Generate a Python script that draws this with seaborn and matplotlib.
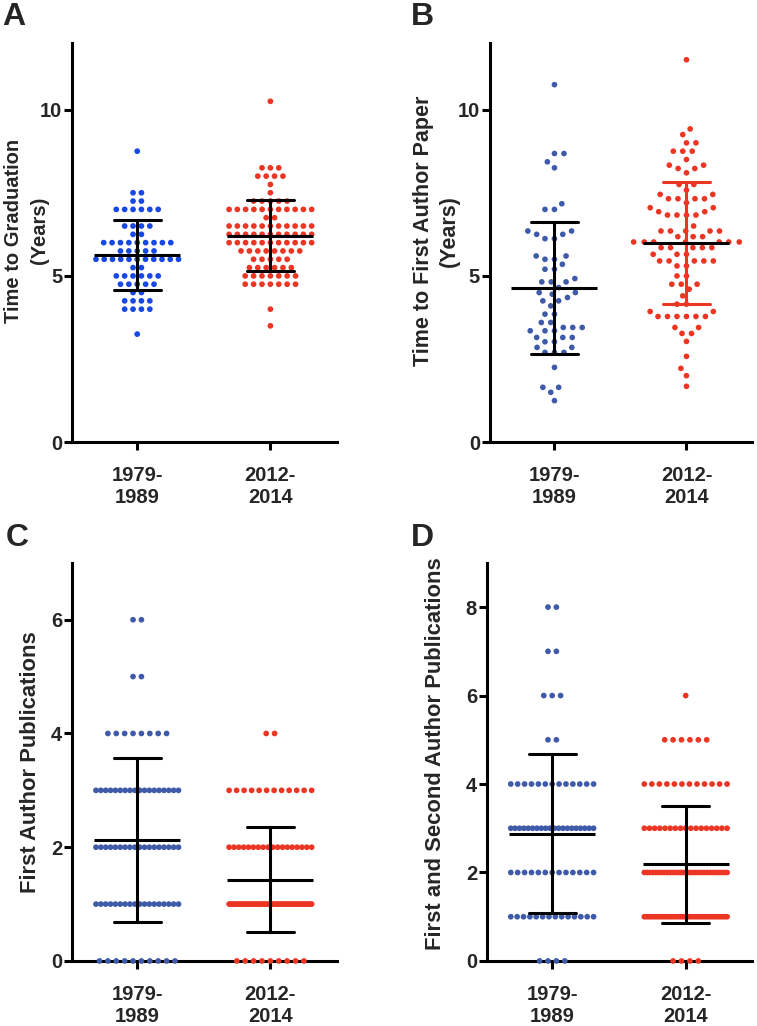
import numpy as np
import pandas as pd
import matplotlib
matplotlib.use("Agg")
import matplotlib.pyplot as plt
import seaborn as sns

groups = ["1979-\n1989", "2012-\n2014"]

# A - time to graduation (years), recorded on a quarter-year grid: level -> number of students
grad_old_levels = [8.75, 7.5, 7.25, 7.0, 6.5, 6.25, 6.0, 5.75, 5.5, 5.25, 5.0, 4.75, 4.5, 4.25, 4.0, 3.25]
grad_old_counts = [1, 2, 2, 6, 4, 2, 9, 5, 11, 2, 6, 5, 2, 4, 4, 1]
grad_new_levels = [10.25, 8.25, 8.0, 7.75, 7.5, 7.25, 7.0, 6.75, 6.5, 6.25, 6.0, 5.75, 5.5, 5.25, 5.0, 4.75, 4.0, 3.5]
grad_new_counts = [1, 3, 4, 1, 1, 5, 11, 2, 11, 11, 11, 8, 5, 6, 7, 7, 1, 1]

# B - time to first author paper (years)
paper_old = [10.75, 8.68, 8.68, 8.43, 8.25, 7.17, 7.0, 7.0, 6.35, 6.35, 6.25, 6.25, 6.12, 6.12,
             5.6, 5.6, 5.5, 5.5, 5.35, 5.2, 5.2, 4.92, 4.82, 4.82, 4.82, 4.65, 4.5, 4.5, 4.45,
             4.35, 4.25, 4.25, 4.1, 3.85, 3.85, 3.6, 3.6, 3.45, 3.45, 3.45, 3.35, 3.35, 3.35,
             3.15, 3.15, 3.15, 3.02, 3.02, 2.85, 2.85, 2.7, 2.7, 2.7, 2.25, 1.65, 1.65, 1.5, 1.25]
paper_new = [11.5, 9.42, 9.25, 9.0, 9.0, 8.75, 8.75, 8.75, 8.5, 8.33, 8.33, 8.23, 8.23, 8.1,
             7.75, 7.75, 7.58, 7.45, 7.45, 7.32, 7.32, 7.32, 7.32, 7.2, 7.05, 7.05, 6.93, 6.93,
             6.83, 6.83, 6.83, 6.83, 6.5, 6.35, 6.35, 6.35, 6.35, 6.35, 6.18, 6.18, 6.18,
             6.02, 6.02, 6.02, 6.02, 6.02, 6.02, 6.02, 6.02, 6.02, 6.02, 6.02,
             5.85, 5.85, 5.85, 5.85, 5.85, 5.65, 5.65, 5.65, 5.45, 5.45, 5.45, 5.45, 5.45,
             5.3, 5.3, 5.0, 5.0, 4.75, 4.75, 4.75, 4.6, 4.4, 4.15, 4.15, 3.93, 3.93,
             3.78, 3.78, 3.78, 3.78, 3.78, 3.78, 3.45, 3.45, 3.27, 3.27, 3.03, 2.58, 2.22, 2.0, 1.68]

# C - first author publications: count level -> number of students
first_levels = [0, 1, 2, 3, 4, 5, 6]
first_old_counts = [10, 18, 18, 18, 8, 2, 2]
first_new_counts = [9, 50, 18, 12, 2, 0, 0]

# D - first and second author publications
both_levels = [0, 1, 2, 3, 4, 5, 6, 7, 8]
both_old_counts = [4, 14, 13, 20, 13, 2, 3, 2, 2]
both_new_counts = [4, 35, 30, 17, 12, 6, 1, 0, 0]

blue_bright = "#1747e4"
blue = "#3e5aa8"
red = "#ec3624"
font = "Liberation Sans"


def row_frame(levels, counts, pos, step=0.063, half=0.31):
    # GraphPad style rows: equal values side by side, squeezed when the row gets too wide
    ys, xs = [], []
    for v, k in zip(levels, counts):
        s = step if k < 2 else min(step, 2 * half / (k - 1))
        for i in range(k):
            ys.append(v)
            xs.append(pos + (i - (k - 1) / 2) * s)
    return pd.DataFrame({"x": xs, "value": ys, "group": groups[pos]})


def mean_sd(ax, df, err_colors):
    sns.pointplot(data=df, x="group", y="value", order=groups, hue="group", hue_order=groups,
                  palette=err_colors, errorbar="sd", capsize=0.35, markersize=0,
                  linestyle="none", err_kws={"linewidth": 2.2, "zorder": 4},
                  legend=False, ax=ax)
    sns.pointplot(data=df, x="group", y="value", order=groups, errorbar=None, color="black",
                  marker="_", markersize=62, markeredgewidth=2.2, linestyle="none",
                  zorder=5, ax=ax)


def style(ax, ylim, yticks, ylabel, label_size, label_xy, spacing=1.25):
    ax.set_xlim(-0.49, 1.5)
    ax.set_ylim(*ylim)
    ax.set_yticks(yticks)
    ax.set_xticks([0, 1])
    ax.set_xticklabels(groups)
    for t in ax.get_xticklabels():
        t.set_fontweight("bold")
        t.set_fontsize(14.5)
    for t in ax.get_yticklabels():
        t.set_fontweight("bold")
        t.set_fontsize(14.5)
    ax.set_xlabel("")
    ax.set_ylabel(ylabel, fontsize=label_size, fontweight="bold", linespacing=spacing)
    ax.yaxis.set_label_coords(*label_xy)
    ax.tick_params(axis="both", length=6, width=2.2, color="black")
    ax.tick_params(axis="y", pad=1)
    ax.tick_params(axis="x", pad=11)
    sns.despine(ax=ax)
    for side in ["left", "bottom"]:
        ax.spines[side].set_linewidth(2.2)
        ax.spines[side].set_color("black")


sns.set_style("ticks")
plt.rcParams["font.family"] = [font, "DejaVu Sans"]
plt.rcParams["font.weight"] = "bold"

fig = plt.figure(figsize=(7.57, 10.26), dpi=100)
axA = fig.add_axes([0.0951, 0.569, 0.350, 0.389])
axB = fig.add_axes([0.647, 0.569, 0.347, 0.389])
axC = fig.add_axes([0.0951, 0.0634, 0.350, 0.388])
axD = fig.add_axes([0.643, 0.0634, 0.351, 0.388])

# A
dfA = pd.concat([row_frame(grad_old_levels, grad_old_counts, 0),
                 row_frame(grad_new_levels, grad_new_counts, 1)])
sns.scatterplot(data=dfA, x="x", y="value", hue="group", palette=[blue_bright, red],
                s=17, linewidth=0, legend=False, zorder=3, clip_on=False, ax=axA)
mean_sd(axA, dfA, ["black", "black"])
style(axA, (0, 12), [0, 5, 10], "Time to Graduation\n(Years)", 14.5, (-0.088, 0.53), 1.45)

# B
dfB = pd.DataFrame({"value": paper_old + paper_new,
                    "group": [groups[0]] * len(paper_old) + [groups[1]] * len(paper_new)})
sns.swarmplot(data=dfB, x="group", y="value", order=groups, hue="group", hue_order=groups,
              palette=[blue, red], size=5.3, linewidth=1.2, edgecolor="white",
              legend=False, zorder=3, ax=axB)
mean_sd(axB, dfB, ["black", red])
style(axB, (0, 12), [0, 5, 10], "Time to First Author Paper\n(Years)", 15.5, (-0.114, 0.53), 1.3)

# C
dfC = pd.concat([row_frame(first_levels, first_old_counts, 0),
                 row_frame(first_levels, first_new_counts, 1)])
sns.scatterplot(data=dfC, x="x", y="value", hue="group", palette=[blue, red],
                s=17, linewidth=0, legend=False, zorder=3, clip_on=False, ax=axC)
mean_sd(axC, dfC, ["black", "black"])
style(axC, (0, 7), [0, 2, 4, 6], "First Author Publications", 15.8, (-0.117, 0.5))

# D
dfD = pd.concat([row_frame(both_levels, both_old_counts, 0),
                 row_frame(both_levels, both_new_counts, 1)])
sns.scatterplot(data=dfD, x="x", y="value", hue="group", palette=[blue, red],
                s=17, linewidth=0, legend=False, zorder=3, clip_on=False, ax=axD)
mean_sd(axD, dfD, ["black", "black"])
style(axD, (0, 9), [0, 2, 4, 6, 8], "First and Second Author Publications", 15.8, (-0.155, 0.52))

for letter, x, y in [("A", 0.003, 0.976), ("B", 0.543, 0.976), ("C", 0.008, 0.468), ("D", 0.543, 0.468)]:
    fig.text(x, y, letter, fontsize=23, fontweight="bold", va="baseline", ha="left")

fig.savefig("out.png", dpi=100)
